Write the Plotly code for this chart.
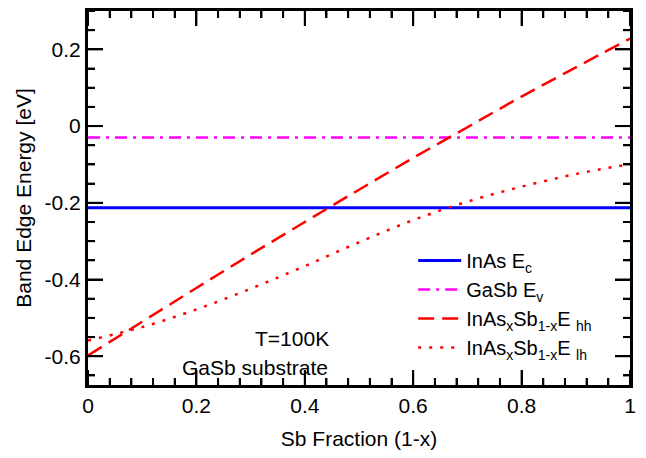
import numpy as np
import plotly.graph_objects as go

sb_fraction = [0.0, 0.1, 0.2, 0.3, 0.4, 0.5, 0.6, 0.7, 0.8, 0.9, 1.0]
inas_ec = [-0.213] * len(sb_fraction)
gasb_ev = [-0.030] * len(sb_fraction)
e_hh = [-0.598, -0.510, -0.422, -0.335, -0.250, -0.166, -0.083, -0.003, 0.077, 0.153, 0.228]
e_lh = [-0.559, -0.524, -0.478, -0.424, -0.365, -0.303, -0.245, -0.197, -0.158, -0.125, -0.099]

x_ticks = [0, 0.2, 0.4, 0.6, 0.8, 1]
x_tick_labels = ["0", "0.2", "0.4", "0.6", "0.8", "1"]
y_ticks = [-0.6, -0.4, -0.2, 0, 0.2]
y_tick_labels = ["-0.6", "-0.4", "-0.2", "0", "0.2"]
x_minor_step = 0.04
y_minor_step = 0.05

X_RANGE = [0, 1]
Y_RANGE = [-0.675, 0.3]

FONT = "Arial, Liberation Sans, sans-serif"

fig = go.Figure()
fig.add_trace(go.Scatter(x=sb_fraction, y=inas_ec, mode="lines",
                         name="InAs E<sub>c</sub>",
                         line=dict(color="#0000ff", width=3)))
fig.add_trace(go.Scatter(x=sb_fraction, y=gasb_ev, mode="lines",
                         name="GaSb E<sub>v</sub>",
                         line=dict(color="#ff00ff", width=2.5, dash="12px,6px,3px,6px")))
fig.add_trace(go.Scatter(x=sb_fraction, y=e_hh, mode="lines",
                         name="InAs<sub>x</sub>Sb<sub>1-x</sub>E <sub>hh</sub>",
                         line=dict(color="#ff0000", width=2.5, dash="16px,8px", shape="spline")))
fig.add_trace(go.Scatter(x=sb_fraction, y=e_lh, mode="lines",
                         name="InAs<sub>x</sub>Sb<sub>1-x</sub>E <sub>lh</sub>",
                         line=dict(color="#ff0000", width=2.5, dash="3px,8px", shape="spline")))

main_common = dict(
    showline=True, linecolor="black", linewidth=3, mirror="allticks",
    tickmode="array", ticks="inside", ticklen=15, tickwidth=2, tickcolor="black",
    showgrid=False, zeroline=False,
    tickfont=dict(family=FONT, size=21, color="black"),
)
fig.update_xaxes(range=X_RANGE, tickvals=x_ticks, ticktext=x_tick_labels,
                 minor=dict(ticks="inside", ticklen=7, tickwidth=2, tickcolor="black",
                            tickmode="linear", tick0=0, dtick=x_minor_step, showgrid=False),
                 title=dict(text="Sb Fraction (1-x)", font=dict(family=FONT, size=21, color="black"),
                            standoff=16),
                 **main_common)
fig.update_yaxes(range=Y_RANGE, tickvals=y_ticks, ticktext=y_tick_labels,
                 minor=dict(ticks="inside", ticklen=7, tickwidth=2, tickcolor="black",
                            tickmode="linear", tick0=0, dtick=y_minor_step, showgrid=False),
                 title=dict(text="Band Edge Energy [eV]", font=dict(family=FONT, size=21, color="black"),
                            standoff=8),
                 **main_common)

# inward tick marks on all four sides drawn as shapes too (major 15 px, minor 7 px)
PLOT_W, PLOT_H = 542, 377
tick_line = dict(color="black", width=2)
x_minor_vals = [v for v in np.round(np.arange(X_RANGE[0], X_RANGE[1] + 1e-9, x_minor_step), 4)
                if min(abs(v - t) for t in x_ticks) > 1e-6]
y_minor_vals = [v for v in np.round(np.arange(-0.65, Y_RANGE[1] + 1e-9, y_minor_step), 4)
                if min(abs(v - t) for t in y_ticks) > 1e-6]

for vals, length in ((x_ticks, 15), (x_minor_vals, 7)):
    f = length / PLOT_H
    for v in vals:
        fig.add_shape(type="line", xref="x", yref="y domain", x0=v, x1=v, y0=0, y1=f, line=tick_line)
        fig.add_shape(type="line", xref="x", yref="y domain", x0=v, x1=v, y0=1, y1=1 - f, line=tick_line)
for vals, length in ((y_ticks, 15), (y_minor_vals, 7)):
    f = length / PLOT_W
    for v in vals:
        fig.add_shape(type="line", xref="x domain", yref="y", x0=0, x1=f, y0=v, y1=v, line=tick_line)
        fig.add_shape(type="line", xref="x domain", yref="y", x0=1, x1=1 - f, y0=v, y1=v, line=tick_line)

fig.add_annotation(x=0.376, y=-0.554, xref="x", yref="y", text="T=100K", showarrow=False,
                   font=dict(family=FONT, size=21, color="black"))
fig.add_annotation(x=0.308, y=-0.629, xref="x", yref="y", text="GaSb substrate", showarrow=False,
                   font=dict(family=FONT, size=21, color="black"))

fig.update_layout(
    width=638, height=450,
    margin=dict(l=80, r=16, t=0, b=73),
    plot_bgcolor="white", paper_bgcolor="white",
    showlegend=True,
    legend=dict(x=0.6, y=0.385, xanchor="left", yanchor="top",
                bgcolor="rgba(0,0,0,0)", borderwidth=0,
                font=dict(family=FONT, size=20, color="black"),
                itemwidth=43, tracegroupgap=0),
)

fig.write_html("out.html")
